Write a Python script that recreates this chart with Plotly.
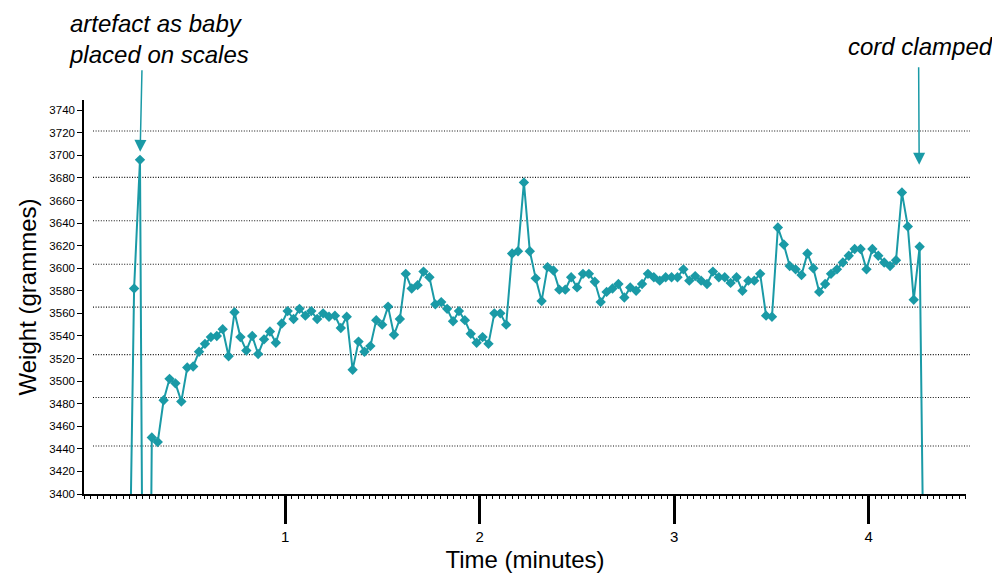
import plotly.graph_objects as go

# Time of each reading (minutes)
times = [
    0.1925, 0.2229, 0.2532, 0.2836, 0.3140, 0.3444, 0.3747, 0.4051, 0.4355, 0.4658,
    0.4962, 0.5266, 0.5569, 0.5873, 0.6177, 0.6481, 0.6784, 0.7088, 0.7392, 0.7695,
    0.7999, 0.8303, 0.8606, 0.8910, 0.9214, 0.9518, 0.9821, 1.0125, 1.0429, 1.0732,
    1.1036, 1.1340, 1.1643, 1.1947, 1.2251, 1.2555, 1.2858, 1.3162, 1.3466, 1.3769,
    1.4073, 1.4377, 1.4680, 1.4984, 1.5288, 1.5592, 1.5895, 1.6199, 1.6503, 1.6806,
    1.7110, 1.7414, 1.7717, 1.8021, 1.8325, 1.8629, 1.8932, 1.9236, 1.9540, 1.9843,
    2.0147, 2.0451, 2.0754, 2.1058, 2.1362, 2.1666, 2.1969, 2.2273, 2.2577, 2.2880,
    2.3184, 2.3488, 2.3791, 2.4095, 2.4399, 2.4703, 2.5006, 2.5310, 2.5614, 2.5917,
    2.6221, 2.6525, 2.6828, 2.7132, 2.7436, 2.7740, 2.8043, 2.8347, 2.8651, 2.8954,
    2.9258, 2.9562, 2.9865, 3.0169, 3.0473, 3.0777, 3.1080, 3.1384, 3.1688, 3.1991,
    3.2295, 3.2599, 3.2902, 3.3206, 3.3510, 3.3814, 3.4117, 3.4421, 3.4725, 3.5028,
    3.5332, 3.5636, 3.5939, 3.6243, 3.6547, 3.6851, 3.7154, 3.7458, 3.7762, 3.8065,
    3.8369, 3.8673, 3.8976, 3.9280, 3.9584, 3.9888, 4.0191, 4.0495, 4.0799, 4.1102,
    4.1406, 4.1710, 4.2013, 4.2317, 4.2621, 4.2925,
]

# Weight readings (grammes)
weights = [
    3240, 3582, 3696, 2800, 3450, 3446, 3483, 3502, 3498, 3482,
    3512, 3513, 3526, 3533, 3539, 3540, 3546, 3522, 3561, 3539,
    3527, 3540, 3524, 3537, 3544, 3534, 3551, 3562, 3555, 3564,
    3558, 3562, 3555, 3560, 3557, 3558, 3547, 3557, 3510, 3535,
    3526, 3531, 3554, 3550, 3566, 3541, 3555, 3595, 3582, 3585,
    3597, 3592, 3568, 3570, 3564, 3553, 3562, 3554, 3542, 3534,
    3539, 3533, 3560, 3560, 3550, 3613, 3615, 3676, 3615, 3591,
    3571, 3601, 3598, 3581, 3581, 3592, 3583, 3595, 3595, 3588,
    3570, 3579, 3582, 3586, 3574, 3583, 3580, 3586, 3595, 3592,
    3589, 3592, 3592, 3592, 3599, 3589, 3593, 3589, 3586, 3597,
    3592, 3592, 3587, 3592, 3580, 3589, 3589, 3595, 3558, 3557,
    3636, 3621, 3602, 3599, 3594, 3613, 3600, 3579, 3586, 3595,
    3599, 3605, 3611, 3617, 3617, 3599, 3617, 3611, 3605, 3602,
    3607, 3667, 3637, 3572, 3619, 3180,
]

y_ticks = list(range(3400, 3741, 20))
x_major = [1, 2, 3, 4]
x_major_text = ["1", "2", "3", "4"]
x_half = [0.5, 1.5, 2.5, 3.5, 4.5]
grid_levels = [3721.5, 3680.5, 3642, 3603.5, 3565.5, 3523.5, 3485.5, 3442.5]

artefact_idx = 2
clamp_idx = 134

TEAL = "#1a9aa6"
FONT = "Liberation Sans, Arial, sans-serif"

fig = go.Figure()
fig.add_trace(go.Scatter(
    x=times, y=weights, mode="lines+markers",
    line=dict(color=TEAL, width=2),
    marker=dict(symbol="diamond", size=8, color=TEAL),
    showlegend=False, cliponaxis=True,
))

XR = [-0.0347, 4.5005]
YR = [3400, 3749]

fig.update_layout(
    width=992, height=569,
    margin=dict(l=76, r=34, t=92, b=83, autoexpand=False),
    paper_bgcolor="white", plot_bgcolor="white",
    font=dict(family=FONT, color="black"),
    xaxis=dict(
        range=XR, showgrid=False, zeroline=False, automargin=False,
        showline=True, linecolor="black", linewidth=1.5,
        tickmode="array", tickvals=x_major, ticktext=x_major_text,
        ticks="outside", ticklen=28, tickwidth=2.5, tickcolor="black",
        tickfont=dict(size=15, family=FONT),
        minor=dict(dtick=1/30, tick0=0, ticks="outside", ticklen=3,
                   tickwidth=1, tickcolor="black", showgrid=False),
        title=dict(text="Time (minutes)", font=dict(size=24, family=FONT), standoff=7),
    ),
    xaxis2=dict(
        range=XR, overlaying="x", anchor="y", side="bottom",
        showgrid=False, zeroline=False, showline=False,
        tickmode="array", tickvals=x_half, showticklabels=False,
        ticks="outside", ticklen=8, tickwidth=2, tickcolor="black",
    ),
    yaxis=dict(
        range=YR, showgrid=False, zeroline=False, automargin=False,
        showline=True, linecolor="black", linewidth=1.5,
        tickmode="array", tickvals=y_ticks,
        ticks="outside", ticklen=5, tickwidth=1, tickcolor="black",
        tickfont=dict(size=11.5, family=FONT),
        title=dict(text="Weight (grammes)", font=dict(size=24, family=FONT), standoff=6),
    ),
)

for g in grid_levels:
    fig.add_shape(type="line", xref="paper", yref="y",
                  x0=0.0102, x1=1.0045, y0=g, y1=g,
                  line=dict(color="#111", width=1.1, dash="1px,1.6px"), layer="below")

# arrows
fig.add_annotation(x=times[artefact_idx], y=weights[artefact_idx], xref="x", yref="y",
                   text="", showarrow=True, ax=2, ay=-91, standoff=8,
                   arrowhead=2, arrowsize=1.6, arrowwidth=1.5, arrowcolor=TEAL)
fig.add_annotation(x=times[clamp_idx], y=weights[clamp_idx], xref="x", yref="y",
                   text="", showarrow=True, ax=-1, ay=-181, standoff=82,
                   arrowhead=2, arrowsize=1.6, arrowwidth=1.5, arrowcolor=TEAL)

fig.add_annotation(x=-0.0193, y=1.155, xref="paper", yref="paper",
                   text="<i>artefact as baby<br>placed on scales</i>", showarrow=False,
                   xanchor="left", yanchor="middle", align="left",
                   font=dict(size=24, family=FONT, color="black"))
fig.add_annotation(x=1.0329, y=1.137, xref="paper", yref="paper",
                   text="<i>cord clamped</i>", showarrow=False,
                   xanchor="right", yanchor="middle", align="right",
                   font=dict(size=24, family=FONT, color="black"))

fig.write_html("out.html")
